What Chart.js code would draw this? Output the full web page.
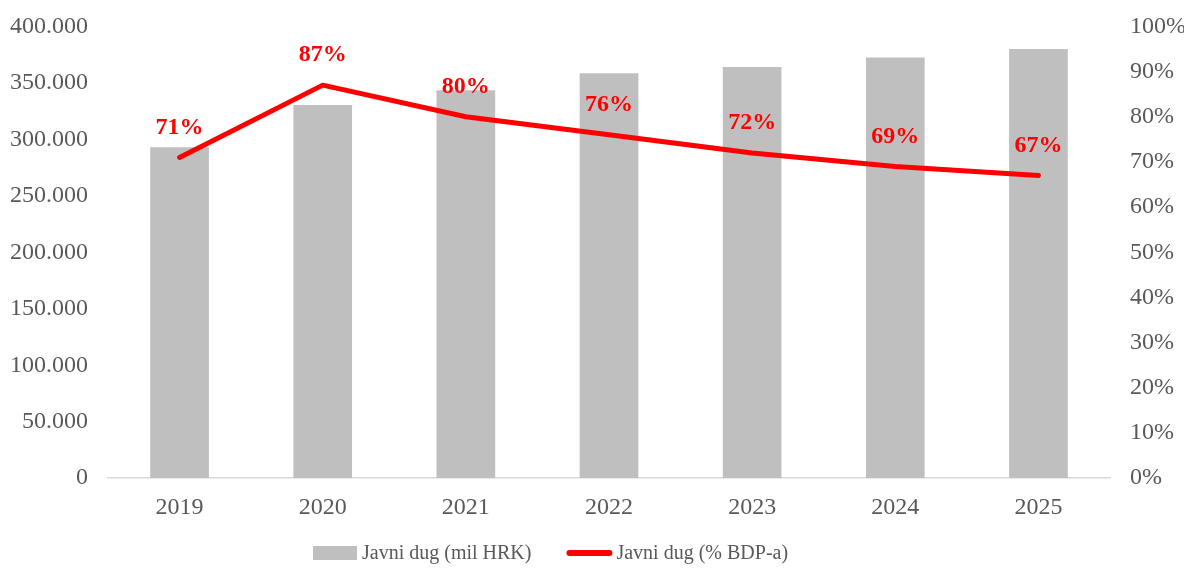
<!DOCTYPE html>
<html>
<head>
<meta charset="utf-8">
<script src="https://cdn.jsdelivr.net/npm/chart.js@4/dist/chart.umd.min.js"></script>
<style>
  html, body { margin: 0; padding: 0; background: #fff; }
  #wrap { width: 1192px; height: 569px; }
</style>
</head>
<body>
<div id="wrap"><canvas id="debtChart"></canvas></div>
<script>
// chart data
const years = ['2019', '2020', '2021', '2022', '2023', '2024', '2025'];
const debtMilHrk = [293000, 330500, 343500, 358500, 364000, 372500, 380000];
const debtPctGdp = [71, 87, 80, 76, 72, 69, 67];

const FONT = '"Liberation Serif", "Times New Roman", serif';
const TICK_COLOR = '#595959';
const BAR_COLOR = '#bfbfbf';
const LINE_COLOR = '#ff0000';

// red % labels above the line points
const pctLabels = {
    id: 'pctLabels',
    afterDatasetsDraw(chart) {
        const meta = chart.getDatasetMeta(1);
        const ctx = chart.ctx;
        ctx.save();
        ctx.font = 'bold 24px ' + FONT;
        ctx.fillStyle = LINE_COLOR;
        ctx.textAlign = 'center';
        ctx.textBaseline = 'middle';
        meta.data.forEach((pt, i) => {
            ctx.fillText(debtPctGdp[i] + '%', pt.x, pt.y - 30);
        });
        ctx.restore();
    }
};

// simple legend at the bottom, closer to the excel look than the built-in one
const bottomLegend = {
    id: 'bottomLegend',
    afterDraw(chart) {
        const ctx = chart.ctx;
        const sets = chart.data.datasets;
        const y = 553;
        let x = 313;
        ctx.save();
        ctx.font = '20px ' + FONT;
        ctx.textBaseline = 'middle';
        ctx.fillStyle = TICK_COLOR;
        sets.forEach((ds, i) => {
            if (ds.type === 'line') {
                ctx.strokeStyle = ds.borderColor;
                ctx.lineWidth = 6;
                ctx.lineCap = 'round';
                ctx.beginPath();
                ctx.moveTo(x + 3, y);
                ctx.lineTo(x + 43, y);
                ctx.stroke();
                x += 50;
            } else {
                ctx.fillStyle = ds.backgroundColor;
                ctx.fillRect(x, y - 7, 44, 14);
                x += 49;
            }
            ctx.fillStyle = TICK_COLOR;
            ctx.fillText(ds.label, x, y + 1);
            x += ctx.measureText(ds.label).width + 35;
        });
        ctx.restore();
    }
};

const ctx = document.getElementById('debtChart').getContext('2d');
new Chart(ctx, {
    type: 'bar',
    data: {
        labels: years,
        datasets: [{
            label: 'Javni dug (mil HRK)',
            data: debtMilHrk,
            backgroundColor: BAR_COLOR,
            borderWidth: 0,
            yAxisID: 'y',
            order: 1,
            categoryPercentage: 1,
            barPercentage: 0.41
        }, {
            type: 'line',
            label: 'Javni dug (% BDP-a)',
            data: debtPctGdp,
            borderColor: LINE_COLOR,
            backgroundColor: LINE_COLOR,
            borderWidth: 5,
            borderCapStyle: 'round',
            borderJoinStyle: 'round',
            pointRadius: 0,
            tension: 0,
            yAxisID: 'y1',
            order: 0
        }]
    },
    options: {
        responsive: true,
        maintainAspectRatio: false,
        animation: false,
        layout: {
            padding: { top: 4, left: 10, right: 8, bottom: 40 }
        },
        scales: {
            x: {
                grid: { display: false },
                border: { display: true, color: '#d9d9d9', width: 1.5 },
                ticks: { color: TICK_COLOR, font: { family: FONT, size: 24 }, padding: 7 }
            },
            y: {
                position: 'left',
                min: 0,
                max: 400000,
                grid: { display: false },
                border: { display: false },
                afterFit: s => { s.width = 98; },
                ticks: {
                    stepSize: 50000,
                    color: TICK_COLOR,
                    padding: 12,
                    font: { family: FONT, size: 24 },
                    callback: v => v === 0 ? '0' : v.toLocaleString('de-DE')
                }
            },
            y1: {
                position: 'right',
                min: 0,
                max: 100,
                grid: { display: false },
                border: { display: false },
                afterFit: s => { s.width = 74; },
                ticks: {
                    stepSize: 10,
                    color: TICK_COLOR,
                    padding: 12,
                    font: { family: FONT, size: 24 },
                    callback: v => v + '%'
                }
            }
        },
        plugins: {
            tooltip: { enabled: false },
            legend: { display: false }
        }
    },
    plugins: [pctLabels, bottomLegend]
});
</script>
</body>
</html>
